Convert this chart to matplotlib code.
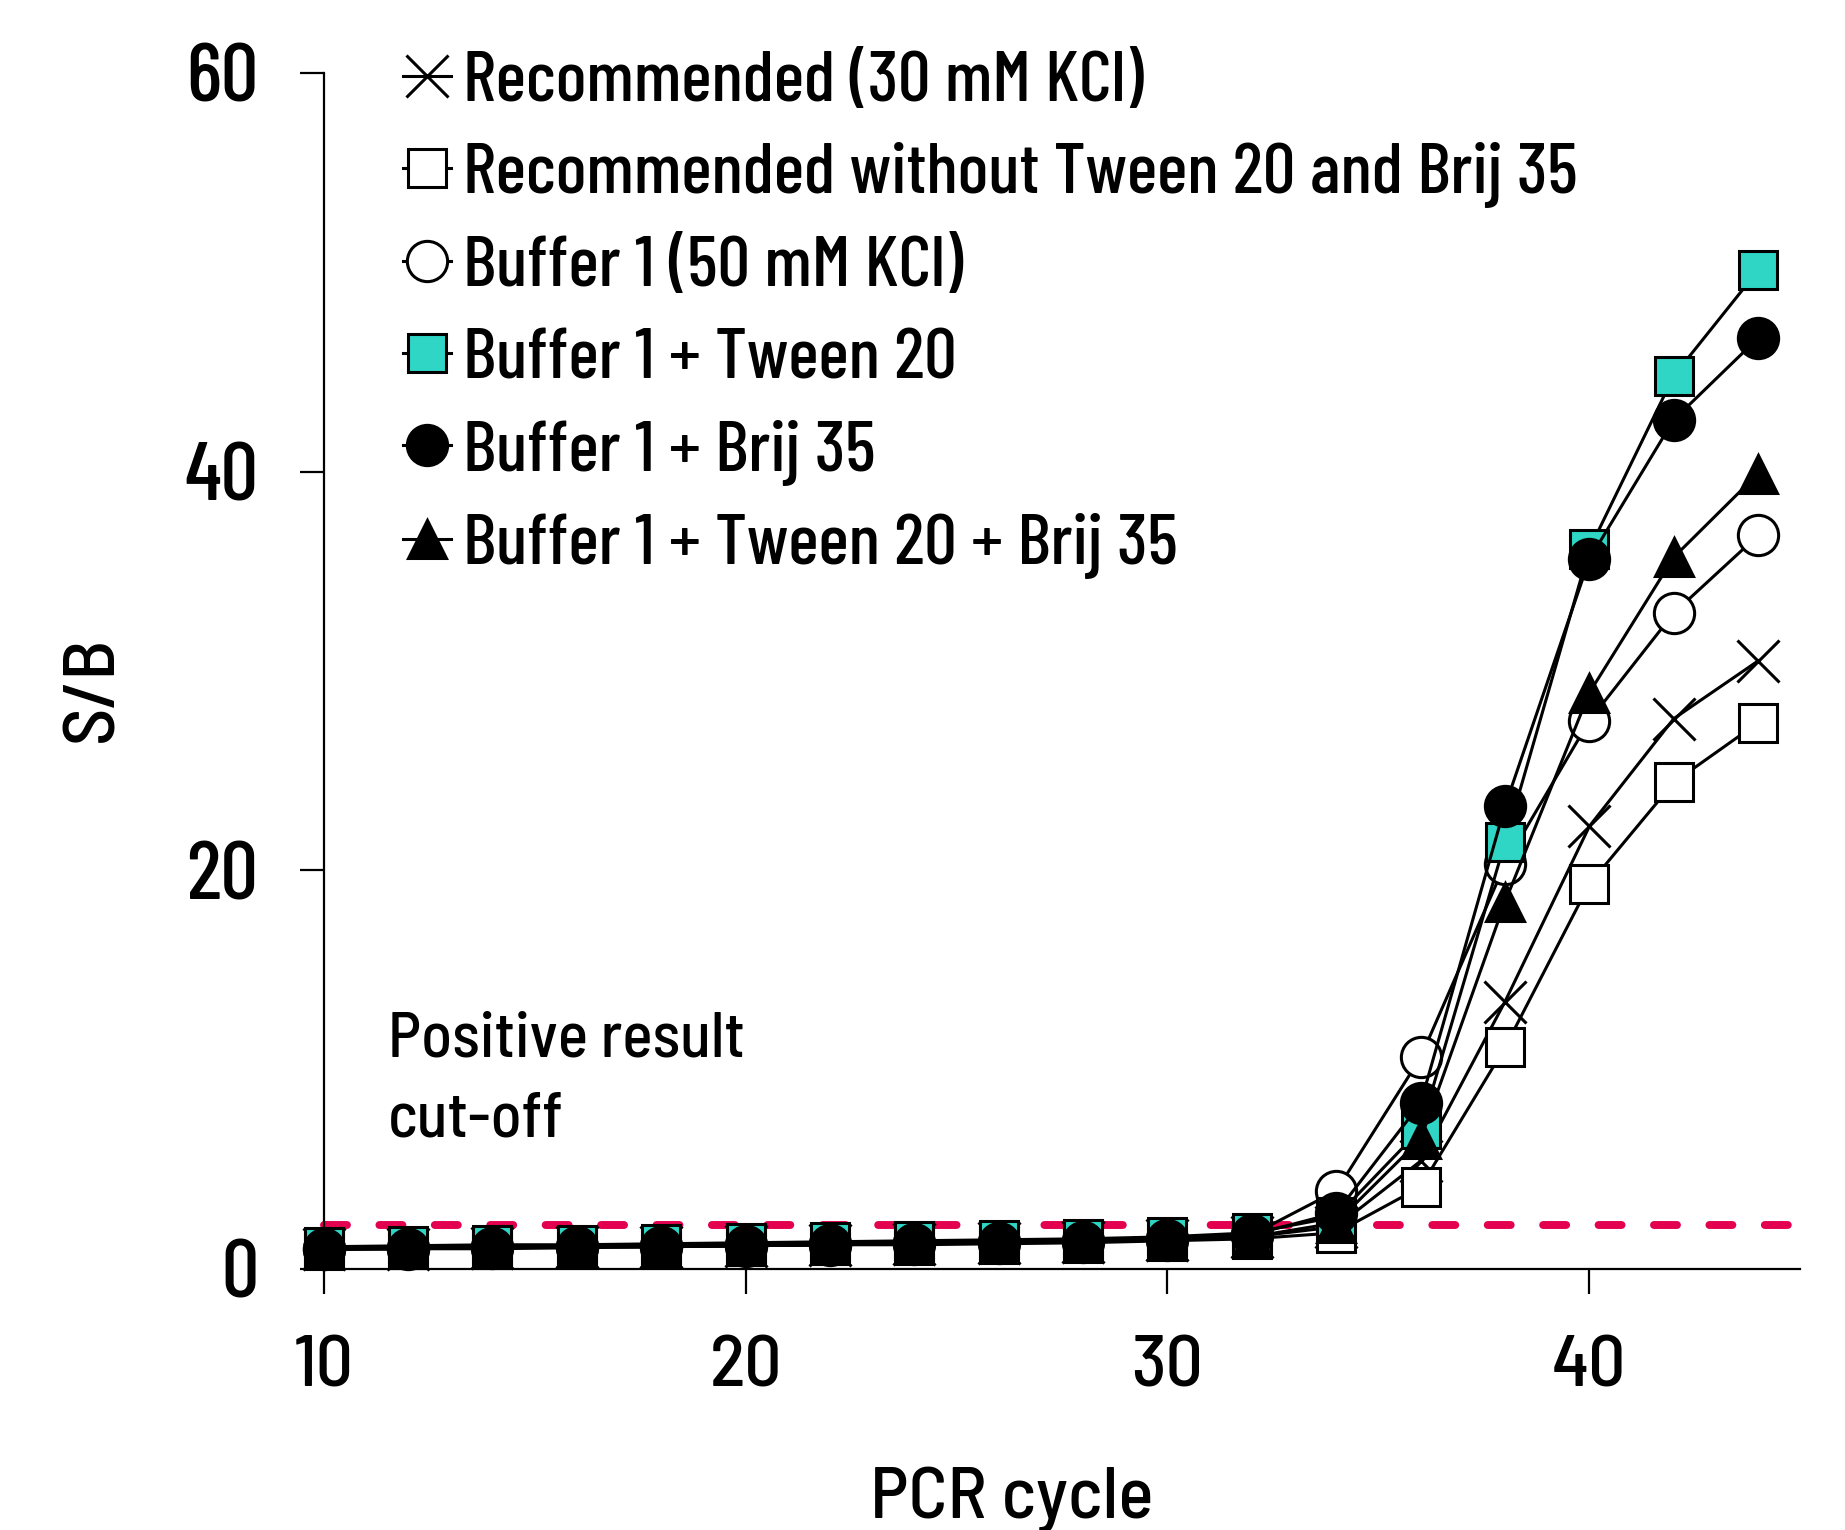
import matplotlib
matplotlib.use("Agg")
import matplotlib.pyplot as plt
from matplotlib import font_manager

# data
cycles = [10, 12, 14, 16, 18, 20, 22, 24, 26, 28, 30, 32, 34, 36, 38, 40, 42, 44]

recommended = [1.0, 1.0, 1.05, 1.1, 1.1, 1.15, 1.2, 1.25, 1.3, 1.35, 1.45, 1.6, 2.1, 5.4, 13.4, 22.2, 27.6, 30.5]
rec_no_det = [0.95, 1.0, 1.0, 1.05, 1.1, 1.15, 1.2, 1.2, 1.25, 1.3, 1.4, 1.5, 1.8, 4.1, 11.1, 19.3, 24.4, 27.4]
buffer1 = [1.0, 1.05, 1.1, 1.1, 1.15, 1.2, 1.25, 1.3, 1.35, 1.4, 1.5, 1.7, 3.9, 10.6, 20.3, 27.5, 32.9, 36.8]
buf_tween = [1.1, 1.15, 1.2, 1.2, 1.25, 1.3, 1.35, 1.4, 1.45, 1.5, 1.6, 1.8, 2.6, 7.0, 21.4, 36.1, 44.8, 50.1]
buf_brij = [1.0, 1.0, 1.05, 1.1, 1.1, 1.15, 1.2, 1.25, 1.3, 1.35, 1.45, 1.7, 2.8, 8.3, 23.2, 35.6, 42.6, 46.7]
buf_both = [1.0, 1.0, 1.05, 1.1, 1.1, 1.15, 1.2, 1.25, 1.3, 1.35, 1.45, 1.6, 2.3, 6.5, 18.4, 28.9, 35.7, 39.9]

labels = ["Recommended (30 mM KCl)",
          "Recommended without Tween 20 and Brij 35",
          "Buffer 1 (50 mM KCl)",
          "Buffer 1 + Tween 20",
          "Buffer 1 + Brij 35",
          "Buffer 1 + Tween 20 + Brij 35"]
cutoff = 2.2


def pick_font(names):
    have = set(f.name for f in font_manager.fontManager.ttflist)
    for n in names:
        if n in have:
            return n
    return "DejaVu Sans"


main_font = pick_font(["Barlow Semi Condensed", "Barlow", "Roboto Condensed", "Saira SemiCondensed", "Roboto"])
leg_font = pick_font(["Barlow Condensed", "Barlow Semi Condensed", "Roboto Condensed", "Saira Condensed", "Roboto"])
plt.rcParams["font.family"] = [main_font, "DejaVu Sans"]
plt.rcParams["font.weight"] = "medium"

teal = "#2FD6C5"
red = "#E2004F"

fig = plt.figure(figsize=(18.45, 15.3), dpi=100)
ax = fig.add_axes([0.1754, 0.1708, 0.8004, 0.7815])

styles = [
    (recommended, "x", "none"),
    (rec_no_det, "s", "white"),
    (buffer1, "o", "white"),
    (buf_tween, "s", teal),
    (buf_brij, "o", "black"),
    (buf_both, "^", "black"),
]
sizes = {"x": 30, "s": 27, "o": 29, "^": 28}

ax.hlines(cutoff, 10, 45, colors=red, linestyles=(0, (2.9, 4.1)), linewidth=5.7,
          capstyle="round", zorder=1, clip_on=False)

for (vals, m, fc), lab in zip(styles, labels):
    ax.plot(cycles, vals, color="black", lw=2.2, marker=m, ms=sizes[m],
            mfc=fc, mec="black", mew=2.2, label=lab, clip_on=False, zorder=3)

ax.set_xlim(10, 45)
ax.set_ylim(0, 60)
ax.set_xticks([10, 20, 30, 40])
ax.set_yticks([0, 20, 40, 60])
ax.spines["top"].set_visible(False)
ax.spines["right"].set_visible(False)
for s in ["left", "bottom"]:
    ax.spines[s].set_linewidth(1.6)
ax.tick_params(axis="y", length=17, width=1.6, pad=30, labelsize=60)
ax.tick_params(axis="x", length=18, width=1.6, pad=30, labelsize=53)
for t in ax.get_yticklabels():
    t.set_fontfamily([leg_font, "DejaVu Sans"])

fig.text(0.051, 0.55, "S/B", rotation=90, ha="center", va="center", fontsize=53)
fig.text(0.5485, 0.008, "PCR cycle", ha="center", va="baseline", fontsize=53)

ax.text(11.53, 12.9, "Positive result\ncut-off", ha="left", va="top", fontsize=45.6,
        linespacing=1.5)

leg = ax.legend(loc="upper left", bbox_to_anchor=(0.054, 1.019), frameon=False,
                prop={"family": leg_font, "size": 52, "weight": "medium"},
                handlelength=0.66, handletextpad=0.17, labelspacing=0.38,
                borderpad=0, borderaxespad=0, markerscale=1.0)

fig.savefig("out.png", dpi=100)
